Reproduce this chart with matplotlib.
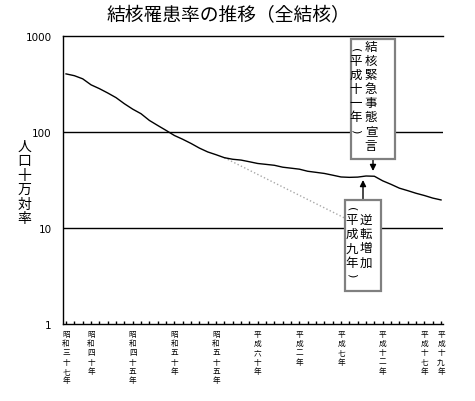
import matplotlib
matplotlib.use("Agg")
import matplotlib.pyplot as plt
from matplotlib.patches import Rectangle
import numpy as np

plt.rcParams['font.family'] = ['Noto Sans CJK JP', 'DejaVu Sans']

# data (rate per 100,000, all tuberculosis)
years = list(range(1962, 2008))
rates = [403, 386, 358, 310, 283, 255, 228, 197, 173, 155,
         132, 117, 104, 92, 84, 76, 68, 62, 58, 54,
         52, 51, 49, 47, 46, 45, 43, 42, 41, 39,
         38, 37, 35.5, 34, 33.7, 33.9, 34.8, 34.6, 31.0, 28.5,
         26, 24.5, 23, 21.8, 20.5, 19.6]

# dotted trend line (decline continued from 1981)
trend_years = [1981, 1996]
trend_rates = [54, 12]

label_years = [1962, 1965, 1970, 1975, 1980, 1985, 1990, 1995, 2000, 2005, 2007]
label_texts = ["昭和三十七年", "昭和四十年", "昭和四十五年", "昭和五十年", "昭和五十五年",
               "平成六十年", "平成二年", "平成七年", "平成十二年", "平成十七年", "平成十九年"]

y_ticks = [1, 10, 100, 1000]
title = "結核罹患率の推移（全結核）"
y_label = "人口十万対率"
note_upper = ("結核緊急事態宣言", "平成十一年")
note_lower = ("逆転増加", "平成九年")

W, H = 475, 402
fig = plt.figure(figsize=(W / 100, H / 100), dpi=100)
ax = fig.add_axes([62.7 / W, 1 - 325 / H, 380 / W, 288 / H])

x = [y - years[0] for y in years]
ax.plot(x, rates, color='black', lw=1, zorder=3)
ax.plot([y - years[0] for y in trend_years], trend_rates, color='#a8a8a8',
        lw=1, ls=':', zorder=2)

ax.set_yscale('log')
ax.set_ylim(1, 1000)
ax.set_xlim(-0.4, 45.2)
ax.set_yticks(y_ticks)
ax.set_yticklabels([str(v) for v in y_ticks], family='DejaVu Sans', fontsize=7.5)
ax.yaxis.set_minor_locator(matplotlib.ticker.NullLocator())
ax.tick_params(axis='y', length=0, pad=8)
for v in [10, 100]:
    ax.axhline(v, color='black', lw=1, zorder=1)

ax.set_xticks(x)
labs = [''] * len(x)
for ly, lt in zip(label_years, label_texts):
    labs[ly - years[0]] = '\n'.join(lt)
ax.set_xticklabels(labs, fontsize=5.5, linespacing=1.22, va='top')
ax.tick_params(axis='x', direction='in', length=2, width=1, pad=4)

ax.spines['right'].set_visible(False)
for s in ['left', 'bottom', 'top']:
    ax.spines[s].set_linewidth(1)

fig.text(228 / W, 1 - 16 / H, title, ha='center', va='center', fontsize=13.5)
fig.text(24 / W, 1 - 183 / H, '\n'.join(y_label), ha='center', va='center',
         fontsize=10, linespacing=1.05)


def to_fig(px, py):
    return px / W, 1 - py / H


def column(chars, px, py0, step):
    for k, ch in enumerate(chars):
        fig.text(*to_fig(px, py0 + k * step), ch, ha='center', va='center',
                 fontsize=9, zorder=6)


def bracket(ch, px, py):
    fig.text(*to_fig(px, py), ch, ha='center', va='center', rotation=-90,
             family='DejaVu Sans', fontsize=8, zorder=6)


def note_box(x0, x1, y0, y1):
    fx0, fy1 = to_fig(x0, y1)
    fx1, fy0 = to_fig(x1, y0)
    fig.add_artist(Rectangle((fx0, fy1), fx1 - fx0, fy0 - fy1,
                             transform=fig.transFigure, facecolor='white',
                             edgecolor='#808080', lw=1.6, zorder=5))


step = 14.2
note_box(350.5, 394.5, 40, 159.5)
column(note_upper[0], 371, 47, step)
bracket('(', 356, 50)
column(note_upper[1], 356, 47 + step, step)
bracket(')', 356, 131)

note_box(344.5, 380.5, 200.5, 292)
column(note_lower[0], 366, 220.5, step)
bracket('(', 351.5, 209)
column(note_lower[1], 351.5, 220.5, step)
bracket(')', 351.5, 275)

arrow = dict(arrowstyle='-|>', color='black', lw=1, mutation_scale=9,
             shrinkA=0, shrinkB=0)
ax.annotate('', xy=to_fig(373, 172), xytext=to_fig(373, 159.5),
            xycoords='figure fraction', textcoords='figure fraction', arrowprops=arrow)
ax.annotate('', xy=to_fig(363, 181), xytext=to_fig(363, 200.5),
            xycoords='figure fraction', textcoords='figure fraction', arrowprops=arrow)

fig.savefig('out.png', dpi=100, facecolor='white')
